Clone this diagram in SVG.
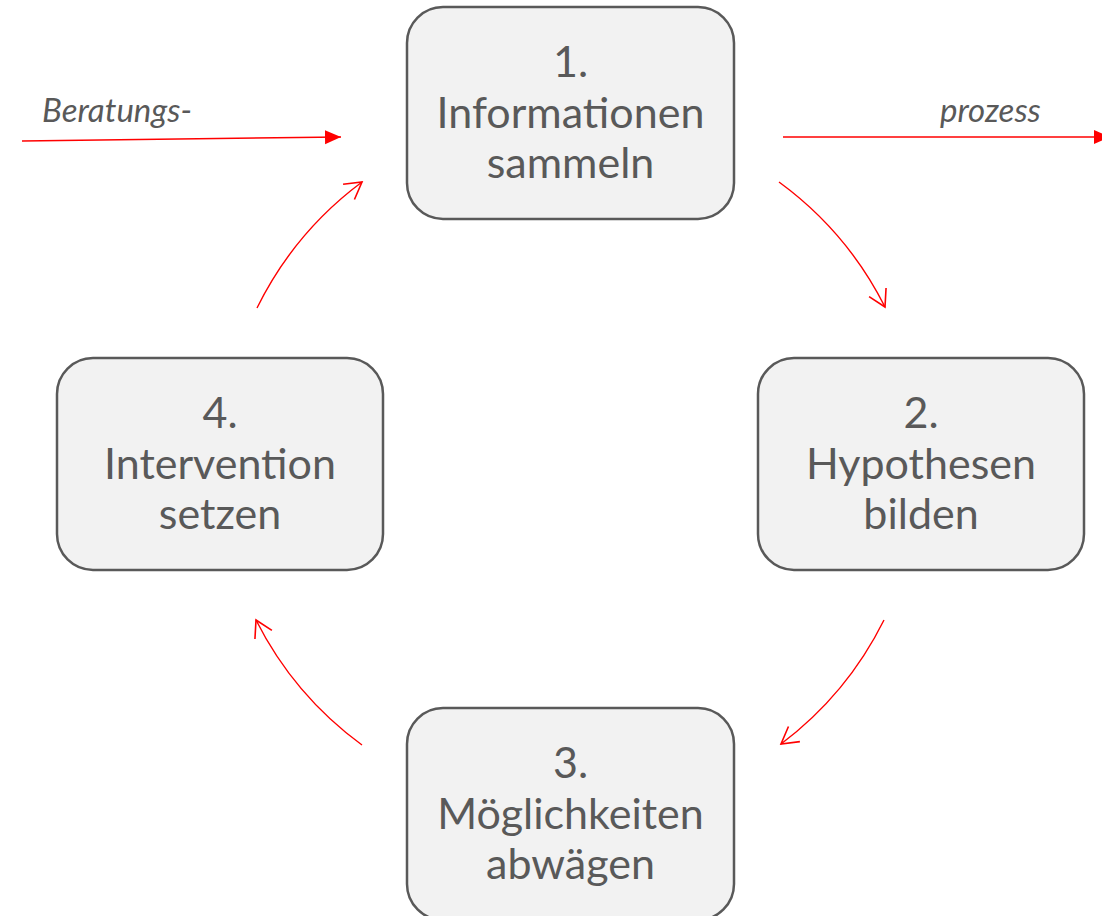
<svg xmlns="http://www.w3.org/2000/svg" width="1102" height="916" viewBox="0 0 1102 916">
<style>
.box{fill:#f2f2f2;stroke:#595959;stroke-width:2.5}
.t{font-family:Lato,"Noto Sans",sans-serif;font-size:43px;fill:#595959;text-anchor:middle}
.lbl{font-family:Lato,"Noto Sans",sans-serif;font-style:italic;font-size:33px;fill:#595959}
.arc{fill:none;stroke:#ff0000;stroke-width:1.4}
.str{fill:none;stroke:#ff0000;stroke-width:1.5}
</style>
<defs>
<marker id="open" markerUnits="userSpaceOnUse" markerWidth="24" markerHeight="24" viewBox="-20 -12 24 24" refX="0" refY="0" orient="auto">
<path d="M -16.5 -9.5 L 0 0 L -16.5 9.5" fill="none" stroke="#ff0000" stroke-width="1.6"/>
</marker>
<marker id="solid" markerUnits="userSpaceOnUse" markerWidth="20" markerHeight="20" viewBox="-16 -10 20 20" refX="0" refY="0" orient="auto">
<path d="M -16 -7 L 0 0 L -16 7 Z" fill="#ff0000"/>
</marker>
</defs>
<g id="connectors">
<path class="str" d="M 22 141 L 341 137" marker-end="url(#solid)"/>
<path class="str" d="M 783 137 L 1110 137" marker-end="url(#solid)"/>
<path class="arc" d="M 779 182 A 350 350 0 0 1 885 307" marker-end="url(#open)"/>
<path class="arc" d="M 884 620 A 350 350 0 0 1 781 744" marker-end="url(#open)"/>
<path class="arc" d="M 362 745 A 350 350 0 0 1 256 620" marker-end="url(#open)"/>
<path class="arc" d="M 257 308 A 350 350 0 0 1 362 182" marker-end="url(#open)"/>
</g>
<g id="label-beratungs"><text class="lbl" x="42" y="122">Beratungs-</text></g>
<g id="label-prozess"><text class="lbl" x="940" y="122">prozess</text></g>
<g id="node1">
<rect class="box" x="407" y="7" width="327" height="212" rx="36"/>
<text class="t" x="570.5" y="77">1.</text>
<text class="t" x="570.5" y="128">Informationen</text>
<text class="t" x="570.5" y="178">sammeln</text>
</g>
<g id="node2">
<rect class="box" x="758" y="358" width="326" height="212" rx="36"/>
<text class="t" x="921" y="428">2.</text>
<text class="t" x="921" y="479">Hypothesen</text>
<text class="t" x="921" y="529">bilden</text>
</g>
<g id="node3">
<rect class="box" x="407" y="708" width="327" height="212" rx="36"/>
<text class="t" x="570.5" y="778">3.</text>
<text class="t" x="570.5" y="829">Möglichkeiten</text>
<text class="t" x="570.5" y="879">abwägen</text>
</g>
<g id="node4">
<rect class="box" x="57" y="358" width="326" height="212" rx="36"/>
<text class="t" x="220" y="428">4.</text>
<text class="t" x="220" y="479">Intervention</text>
<text class="t" x="220" y="529">setzen</text>
</g>
</svg>
